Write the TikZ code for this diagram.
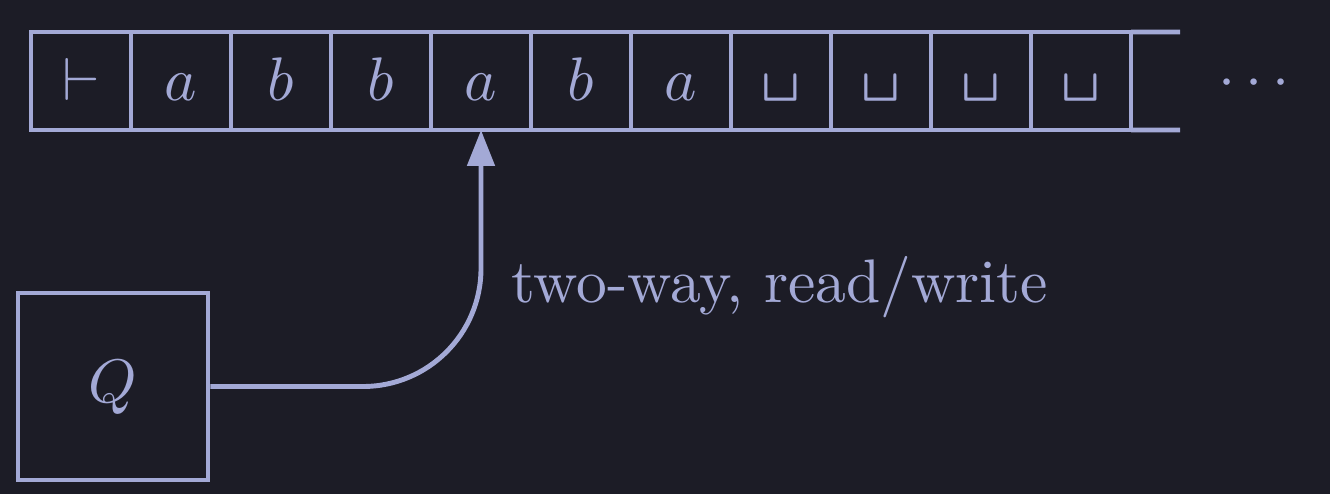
\documentclass[tikz,border=0pt]{standalone}
\usepackage{fontspec}
\usepackage{unicode-math}
\setmainfont{lmroman10-regular}[Extension=.otf]
\setmonofont{lmmono10-regular}[Extension=.otf]
\setmathfont{Latin Modern Math}
\usetikzlibrary{arrows.meta}

\definecolor{fondo}{RGB}{28,28,38}
\definecolor{tinta}{RGB}{163,169,214}

\newcommand{\blanco}{\raisebox{0.15em}{\scalebox{1.2}{\texttt{\textvisiblespace}}}}

\begin{document}
\begin{tikzpicture}[
        line width=1.4pt,
        color=tinta,
        every node/.style={
            font=\fontsize{17.5}{21}\selectfont
        },
        celda/.style={
            draw,
            minimum width=1cm,
            minimum height=0.98cm,
            inner sep=0pt,
            outer sep=0pt,
            text height=0.54cm,
            text depth=0.14cm
        },
        estado/.style={
            draw,
            minimum width=1.9cm,
            minimum height=1.87cm,
            inner sep=0pt
        }
    ]

    % Fondo
    \fill[fondo] (0,0) rectangle (13.30,-4.94);

    % Cinta
    \foreach \s [count=\i from 0] in {$\vdash$,$a$,$b$,$b$,$a$,$b$,$a$,
        \blanco,\blanco,\blanco,\blanco}
        \node[celda] (c\i) at ({0.81+\i},-0.81) {\s};
    \coordinate (finN) at (11.80,-0.32);
    \coordinate (finS) at (11.80,-1.30);
    \draw (c10.north east) -- (finN);
    \draw (c10.south east) -- (finS);
    \node[anchor=base] (puntos) at (12.54,-0.98) {${\cdot}\,{\cdot}\,{\cdot}$};

    % Control
    \node[estado] (Q) at (1.13,-3.865) {$Q$};

    % Cabeza
    \draw[-{Triangle[length=0.36cm,width=0.27cm]}, rounded corners=1.18cm]
        (Q.east) -| (c4.south);
    \node[anchor=base west, inner sep=0pt] (etiqueta) at (5.09,-3.03)
        {two-way, read/write};

\end{tikzpicture}
\end{document}
